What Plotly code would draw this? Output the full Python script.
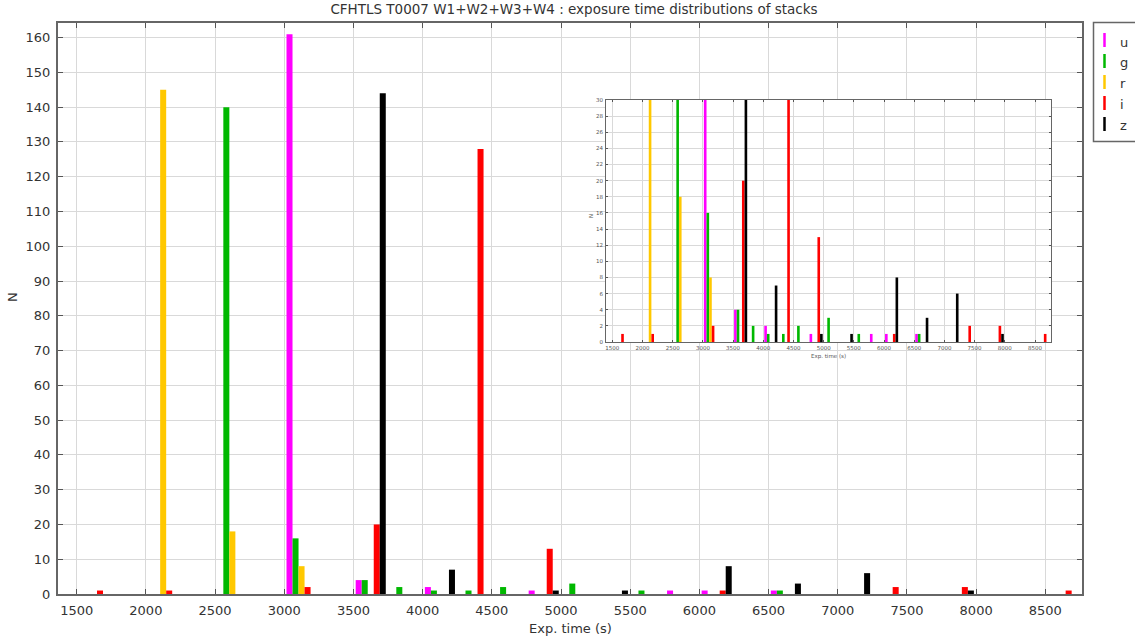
import plotly.graph_objects as go

# Exposure-time histogram of stacks, 250 s bins (bin centres in seconds)
bin_centers = [1625, 1875, 2125, 2375, 2625, 2875, 3125, 3375, 3625, 3875,
               4125, 4375, 4625, 4875, 5125, 5375, 5625, 5875, 6125, 6375,
               6625, 6875, 7125, 7375, 7625, 7875, 8125, 8375, 8625]

# Number of stacks per bin for each filter
n_u = [0, 0, 0, 0, 0, 0, 161, 0, 4, 0, 2, 0, 0, 1, 0, 0, 0, 1, 1, 0,
       1, 0, 0, 0, 0, 0, 0, 0, 0]
n_g = [0, 0, 0, 0, 140, 0, 16, 0, 4, 2, 1, 1, 2, 0, 3, 0, 1, 0, 0, 0,
       1, 0, 0, 0, 0, 0, 0, 0, 0]
n_r = [0, 0, 145, 0, 18, 0, 8, 0, 0, 0, 0, 0, 0, 0, 0, 0, 0, 0, 0, 0,
       0, 0, 0, 0, 0, 0, 0, 0, 0]
n_i = [1, 0, 1, 0, 0, 0, 2, 0, 20, 0, 0, 128, 0, 13, 0, 0, 0, 0, 1, 0,
       0, 0, 0, 2, 0, 2, 0, 0, 1]
n_z = [0, 0, 0, 0, 0, 0, 0, 0, 144, 0, 7, 0, 0, 1, 0, 1, 0, 0, 8, 0,
       3, 0, 6, 0, 0, 1, 0, 0, 0]

filters = ["u", "g", "r", "i", "z"]
counts = [n_u, n_g, n_r, n_i, n_z]
colors = ["#FF00FF", "#00B800", "#FFC800", "#FF0000", "#000000"]

title_text = "CFHTLS T0007 W1+W2+W3+W4 : exposure time distributions of stacks"
x_title = "Exp. time (s)"
y_title = "N"

W, H = 1135, 640
ML, MR, MT, MB = 58, 53, 23, 46
PW, PH = W - ML - MR, H - MT - MB


def px(x):
    return (x - ML) / PW


def py(y):
    return (H - MB - y) / PH


FONT = "DejaVu Sans"
TXT = "#333333"

fig = go.Figure()

for name, vals, col in zip(filters, counts, colors):
    fig.add_trace(go.Bar(x=bin_centers, y=vals, name=name, marker_color=col,
                         marker_line_width=0, xaxis="x", yaxis="y",
                         showlegend=False))
for name, vals, col in zip(filters, counts, colors):
    fig.add_trace(go.Bar(x=bin_centers, y=vals, name=name, marker_color=col,
                         marker_line_width=0, xaxis="x2", yaxis="y2",
                         showlegend=False))

axis_common = dict(showline=True, linecolor="#666666", mirror="allticks",
                   ticks="inside", tickcolor="#555555", showgrid=True,
                   gridcolor="#D9D9D9", gridwidth=1, zeroline=False)

fig.update_layout(
    width=W, height=H,
    margin=dict(l=ML, r=MR, t=MT, b=MB, pad=0),
    paper_bgcolor="white", plot_bgcolor="white",
    barmode="group", bargap=0.13, bargroupgap=0,
    font=dict(family=FONT, size=13, color=TXT),
    title=dict(text=title_text, x=px(574), xref="paper", xanchor="center",
               y=1 - 9 / H, yref="container", yanchor="middle",
               font=dict(family=FONT, size=13.5, color=TXT)),
    xaxis=dict(range=[1365, 8765], tick0=1500, dtick=500, ticklen=5,
               linewidth=2, tickfont=dict(size=13, color=TXT),
               ticklabelstandoff=3,
               domain=[0, 1], anchor="y", **axis_common),
    yaxis=dict(range=[0, 164.2], tick0=0, dtick=10, ticklen=5,
               linewidth=2, tickfont=dict(size=13, color=TXT),
               ticklabelstandoff=3, domain=[0, 1], anchor="x", **axis_common),
    xaxis2=dict(range=[1395, 8765], tick0=1500, dtick=500, ticklen=2,
                linewidth=1, tickfont=dict(size=5.5, color="#555555"),
                ticklabelstandoff=0,
                domain=[px(606), px(1051)], anchor="y2", **axis_common),
    yaxis2=dict(range=[0, 30], tick0=0, dtick=2, ticklen=2,
                linewidth=1, tickfont=dict(size=5.5, color="#555555"),
                ticklabelstandoff=1,
                domain=[py(342), py(100)], anchor="x2", **axis_common),
)

annotations = [
    dict(text=x_title, x=px(570), y=py(628), xref="paper", yref="paper",
         showarrow=False, xanchor="center", yanchor="middle",
         font=dict(family=FONT, size=13, color=TXT)),
    dict(text=y_title, x=px(12), y=py(297), xref="paper", yref="paper",
         showarrow=False, textangle=-90, xanchor="center", yanchor="middle",
         font=dict(family=FONT, size=13, color=TXT)),
    dict(text=x_title, x=px(828), y=py(356), xref="paper", yref="paper",
         showarrow=False, xanchor="center", yanchor="middle",
         font=dict(family=FONT, size=5.5, color="#555555")),
    dict(text=y_title, x=px(591), y=py(216), xref="paper", yref="paper",
         showarrow=False, textangle=-90, xanchor="center", yanchor="middle",
         font=dict(family=FONT, size=5.5, color="#555555")),
]

# Legend box with short vertical colour strokes
shapes = [dict(type="rect", xref="paper", yref="paper",
               x0=px(1093.5), x1=px(1140), y0=py(141.5), y1=py(22.5),
               line=dict(color="#666666", width=1.5), fillcolor="white",
               layer="above")]
legend_rows = [40, 61, 82, 103, 124]
for name, col, yc in zip(filters, colors, legend_rows):
    shapes.append(dict(type="line", xref="paper", yref="paper",
                       x0=px(1104.5), x1=px(1104.5), y0=py(yc + 7), y1=py(yc - 7),
                       line=dict(color=col, width=2.5), layer="above"))
    annotations.append(dict(text=name, x=px(1118), y=py(yc + 2),
                            xref="paper", yref="paper", showarrow=False,
                            xanchor="left", yanchor="middle",
                            font=dict(family=FONT, size=13, color=TXT)))

fig.update_layout(shapes=shapes, annotations=annotations)

fig.write_html("out.html")
